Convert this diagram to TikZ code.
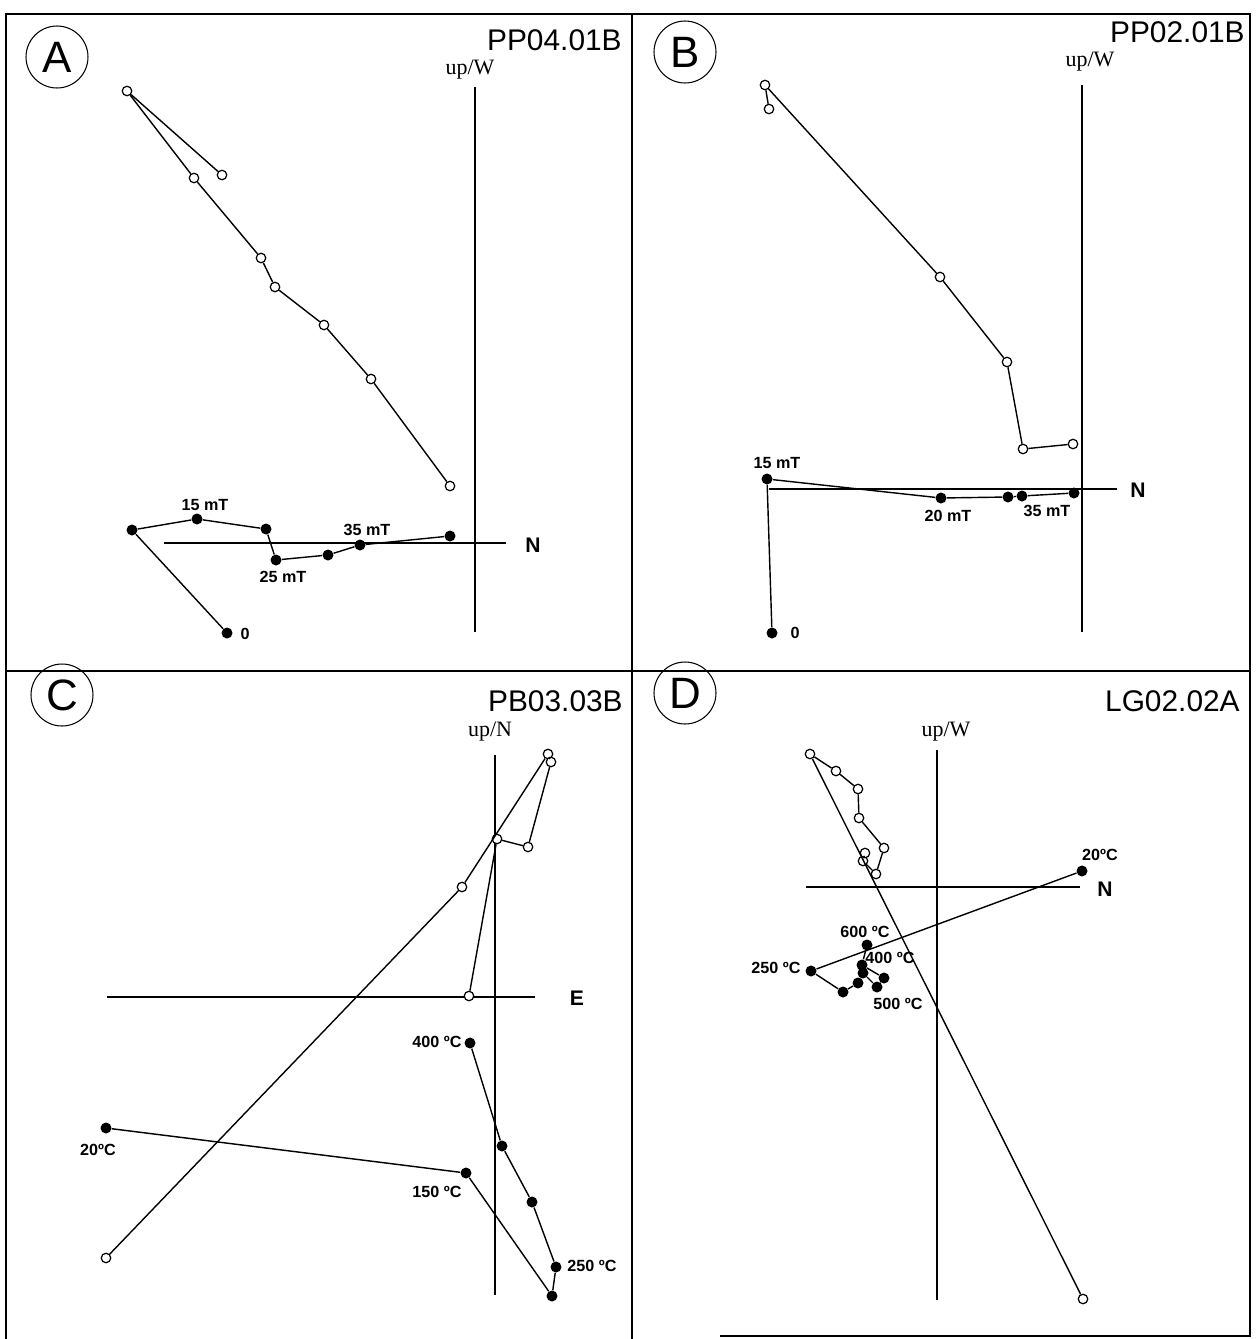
\documentclass[tikz,border=0pt]{standalone}
\usepackage{fontspec}
\setmainfont{Liberation Sans}
\newfontfamily\axisfont{Liberation Serif}
\tikzset{
	opn/.style={circle,draw,fill=white,line width=0.7pt,inner sep=0pt,minimum size=0.19cm},
	full/.style={circle,fill=black,inner sep=0pt,minimum size=0.22cm},
	trace/.style={line width=0.8pt},
	axis/.style={line width=0.7pt},
	frame/.style={line width=1.1pt},
	tag/.style={circle,draw,line width=0.6pt,minimum size=1.24cm,inner sep=0pt,font=\fontsize{25}{25}\selectfont},
	title/.style={anchor=base east,inner sep=0pt,font=\fontsize{17}{17}\selectfont},
	updir/.style={font=\axisfont\fontsize{12.5}{12.5}\selectfont},
	hdir/.style={font=\bfseries\fontsize{12}{12}\selectfont},
	lbl/.style={inner sep=0pt,font=\bfseries\fontsize{9.2}{9.5}\selectfont}
}
\begin{document}
\begin{tikzpicture}[x=0.02cm,y=-0.02cm]
	\useasboundingbox (0,0) rectangle (1257,1339);
	% frame
	\draw[frame] (6,1339) -- (6,14) -- (1250,14) -- (1250,1336) -- (720,1336);
	\draw[frame] (632,14) -- (632,1339);
	\draw[frame] (6,671) -- (1250,671);
	
	% panel A
	\node[tag] (tagA) at (57,57) {A};
	\node[title] (titA) at (622,50) {PP04.01B};
	\node[updir] (upA) at (470,70) {up/W};
	\node[hdir] (hA) at (533,545) {N};
	\draw[axis] (475,87) -- (475,632);
	\draw[axis] (164,543) -- (506,543);
	\foreach \p [count=\i] in {(222,175),(127,91),(194,178),(261,258),(275,287),(324,325),(371,379),(450,486)}
		\node[opn] (ao\i) at \p {};
	\foreach \p [count=\i] in {(227,633),(132,530),(197,519),(266,529),(276,560),(328,555),(360,545),(450,536)}
		\node[full] (af\i) at \p {};
	\foreach \i [remember=\i as \j (initially 1)] in {2,...,8} {
		\draw[trace] (ao\j) -- (ao\i);
		\draw[trace] (af\j) -- (af\i);
	}
	\node[lbl] (la0) at (245,634) {0};
	\node[lbl] (la15) at (205,505) {15 mT};
	\node[lbl] (la25) at (283,577) {25 mT};
	\node[lbl] (la35) at (367,530) {35 mT};
	
	% panel B
	\node[tag] (tagB) at (685,52) {B};
	\node[title] (titB) at (1245,42) {PP02.01B};
	\node[updir] (upB) at (1090,62) {up/W};
	\node[hdir] (hB) at (1138,490) {N};
	\draw[axis] (1082,85) -- (1082,632);
	\draw[axis] (769,489) -- (1117,489);
	\foreach \p [count=\i] in {(769,109),(765,85),(940,277),(1007,362),(1023,449),(1073,444)}
		\node[opn] (bo\i) at \p {};
	\foreach \p [count=\i] in {(772,633),(767,479),(941,498),(1008,497),(1022,496),(1074,493)}
		\node[full] (bf\i) at \p {};
	\foreach \i [remember=\i as \j (initially 1)] in {2,...,6} {
		\draw[trace] (bo\j) -- (bo\i);
		\draw[trace] (bf\j) -- (bf\i);
	}
	\node[lbl] (lb0) at (795,633) {0};
	\node[lbl] (lb15) at (777,463) {15 mT};
	\node[lbl] (lb20) at (948,516) {20 mT};
	\node[lbl] (lb35) at (1047,511) {35 mT};
	
	% panel C
	\node[tag] (tagC) at (62,695) {C};
	\node[title] (titC) at (623,711) {PB03.03B};
	\node[updir] (upC) at (490,732) {up/N};
	\node[hdir] (hC) at (577,998) {E};
	\draw[axis] (495,755) -- (495,1295);
	\draw[axis] (107,997) -- (535,997);
	\foreach \p [count=\i] in {(106,1258),(462,887),(548,754),(551,762),(528,847),(497,839),(469,996)}
		\node[opn] (co\i) at \p {};
	\foreach \p [count=\i] in {(106,1128),(466,1173),(552,1296),(556,1267),(532,1202),(502,1146),(470,1043)}
		\node[full] (cf\i) at \p {};
	\foreach \i [remember=\i as \j (initially 1)] in {2,...,7} {
		\draw[trace] (co\j) -- (co\i);
		\draw[trace] (cf\j) -- (cf\i);
	}
	\node[lbl] (lc20) at (98,1150) {20ºC};
	\node[lbl] (lc150) at (437,1192) {150 ºC};
	\node[lbl] (lc250) at (592,1266) {250 ºC};
	\node[lbl] (lc400) at (437,1042) {400 ºC};
	
	% panel D
	\node[tag] (tagD) at (685,693) {D};
	\node[title] (titD) at (1240,711) {LG02.02A};
	\node[updir] (upD) at (946,732) {up/W};
	\node[hdir] (hD) at (1105,889) {N};
	\draw[axis] (937,750) -- (937,1300);
	\draw[axis] (806,887) -- (1080,887);
	\foreach \p [count=\i] in {(1083,1299),(810,754),(836,771),(858,789),(859,818),(884,848),(876,874),(863,861),(865,853)}
		\node[opn] (do\i) at \p {};
	\foreach \p [count=\i] in {(1082,871),(811,971),(843,992),(858,983),(863,973),(877,987),(884,978),(862,965),(867,945)}
		\node[full] (df\i) at \p {};
	\foreach \i [remember=\i as \j (initially 1)] in {2,...,9} {
		\draw[trace] (do\j) -- (do\i);
		\draw[trace] (df\j) -- (df\i);
	}
	\node[lbl] (ld20) at (1100,855) {20ºC};
	\node[lbl] (ld600) at (865,932) {600 ºC};
	\node[lbl] (ld400) at (890,958) {400 ºC};
	\node[lbl] (ld250) at (776,968) {250 ºC};
	\node[lbl] (ld500) at (898,1004) {500 ºC};
\end{tikzpicture}
\end{document}
